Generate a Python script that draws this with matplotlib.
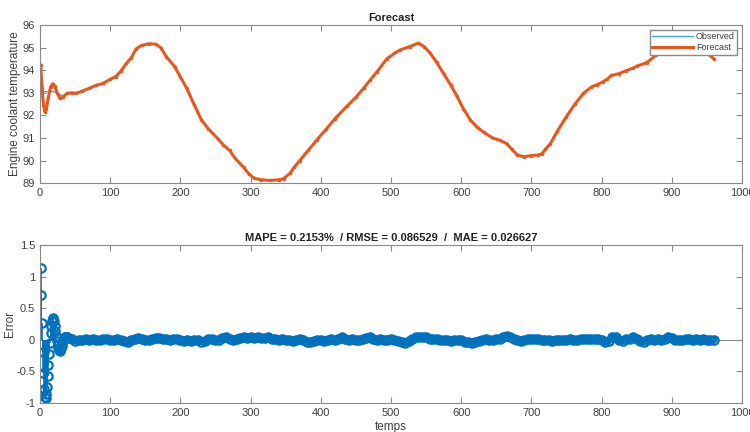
import matplotlib.pyplot as plt
from matplotlib.ticker import FormatStrFormatter

# ---- data ----
# forecast (top panel), sampled at the turning points of the curve
fc_x = [1, 3, 5, 7, 9, 12, 15, 18, 21, 25, 29, 33, 38, 45, 52, 60, 70, 80, 90,
        100, 108, 115, 123, 130, 137, 145, 155, 165, 172, 180, 192, 200, 209,
        220, 230, 240, 254, 261, 270, 278, 290, 298, 305, 315, 328, 340, 347,
        356, 362, 370, 382, 394, 408, 420, 437, 450, 461, 470, 480, 494, 505,
        513, 527, 539, 547, 556, 565, 575, 585, 594, 603, 613, 622, 632, 645,
        655, 665, 672, 680, 689, 700, 710, 715, 720, 727, 737, 750, 762, 774,
        785, 793, 802, 808, 814, 825, 835, 845, 850, 864, 878, 890, 900, 915,
        930, 945, 960]
fc_y = [94.22, 93.2, 92.45, 92.15, 92.3, 92.8, 93.25, 93.4, 93.3, 92.95, 92.75,
        92.8, 92.97, 93.0, 92.98, 93.07, 93.2, 93.33, 93.42, 93.6, 93.72, 93.95,
        94.3, 94.55, 94.95, 95.1, 95.17, 95.15, 95.0, 94.6, 94.15, 93.7, 93.2,
        92.45, 91.8, 91.4, 90.95, 90.7, 90.45, 90.1, 89.7, 89.4, 89.22, 89.15,
        89.12, 89.15, 89.2, 89.43, 89.7, 90.0, 90.45, 90.9, 91.4, 91.85, 92.4,
        92.8, 93.2, 93.55, 93.93, 94.5, 94.75, 94.9, 95.05, 95.2, 95.05, 94.75,
        94.35, 93.85, 93.35, 92.85, 92.3, 91.8, 91.5, 91.25, 91.0, 90.9, 90.75,
        90.5, 90.25, 90.17, 90.22, 90.25, 90.3, 90.5, 90.75, 91.3, 91.95, 92.5,
        92.97, 93.25, 93.35, 93.49, 93.6, 93.77, 93.85, 93.98, 94.1, 94.18,
        94.33, 94.67, 94.9, 95.1, 95.3, 95.25, 94.9, 94.5]

# observed: only the start differs visibly from the forecast
obs_start = [93.08, 93.05, 93.05, 93.05, 93.05, 93.03, 93.05, 93.06, 93.03,
             92.98, 92.9, 92.88, 92.95]

# error (bottom panel): every step at the start, then every 5 steps
err_x_start = list(range(1, 41))
err_start = [1.14, 0.71, 0.26, -0.19, -0.53, -0.77, -0.90, -0.92, -0.86, -0.74,
             -0.58, -0.40, -0.22, -0.05, 0.10, 0.22, 0.30, 0.34, 0.33, 0.29,
             0.22, 0.14, 0.06, -0.02, -0.08, -0.13, -0.16, -0.17, -0.16, -0.13,
             -0.09, -0.05, -0.01, 0.02, 0.04, 0.05, 0.05, 0.05, 0.04, 0.03]
err_x_rest = list(range(45, 961, 5))
err_rest = [0.01, -0.02, -0.01, 0.0, 0.01, 0.0, 0.02, 0.0, -0.01, 0.01,
            0.02, 0.0, -0.01, 0.01, 0.0, -0.02, -0.04, -0.01, 0.02, 0.03,
            0.01, -0.01, 0.0, 0.02, 0.03, 0.03, 0.02, 0.01, 0.0, 0.02,
            0.01, -0.01, -0.02, -0.01, -0.02, -0.01, 0.0, -0.03, -0.02, 0.01,
            0.02, -0.01, 0.0, 0.03, 0.05, 0.02, 0.0, 0.02, 0.03, 0.04,
            0.03, 0.04, 0.03, 0.04, 0.03, 0.03, 0.04, 0.02, 0.01, 0.0,
            0.01, -0.01, 0.0, -0.02, -0.01, 0.01, -0.01, -0.03, -0.03, -0.02,
            0.0, -0.01, -0.02, 0.0, 0.02, 0.0, 0.01, 0.04, 0.02, 0.0,
            0.01, 0.0, -0.01, 0.02, 0.03, 0.04, 0.01, 0.0, 0.01, -0.01,
            0.0, 0.01, 0.0, -0.02, -0.03, -0.05, -0.02, 0.01, 0.04, 0.05,
            0.05, 0.04, 0.02, 0.02, 0.01, 0.0, -0.01, 0.0, -0.02, -0.01,
            0.0, -0.01, -0.03, -0.04, -0.05, -0.03, -0.02, 0.0, 0.01, 0.0,
            -0.01, 0.01, 0.02, 0.05, 0.06, 0.04, 0.02, -0.01, -0.02, 0.0,
            0.01, 0.01, 0.02, 0.02, 0.0, -0.01, -0.01, -0.02, -0.01, 0.0,
            -0.01, 0.0, 0.01, 0.0, 0.0, 0.01, 0.01, 0.01, 0.02, 0.02,
            0.02, 0.0, -0.04, -0.02, 0.05, 0.04, 0.0, -0.02, 0.01, 0.02,
            0.04, 0.01, -0.02, -0.03, 0.0, 0.02, -0.01, 0.01, -0.01, 0.02,
            0.05, 0.03, 0.0, -0.01, 0.0, 0.01, 0.01, 0.0, 0.01, 0.0,
            0.01, 0.0, 0.0, 0.0]

title_top = "Forecast"
title_bottom = "MAPE = 0.2153%  / RMSE = 0.086529  /  MAE = 0.026627"

obs_y = obs_start + fc_y[len(obs_start):]
err_x = err_x_start + err_x_rest
err_y = err_start + err_rest

plt.rcParams['font.family'] = ['Liberation Sans', 'DejaVu Sans']
plt.rcParams['font.size'] = 8
plt.rcParams['axes.unicode_minus'] = False

BLUE = '#0072BD'
CYAN = '#45A8D8'
ORANGE = '#E8571E'
GRAY = '#8a8a8a'
TXT = '#404040'

fig = plt.figure(figsize=(7.5, 4.32), dpi=100)
ax1 = fig.add_axes([0.0533, 0.576, 0.936, 0.366])
ax2 = fig.add_axes([0.0533, 0.067, 0.936, 0.366])


def style(ax):
    for s in ax.spines.values():
        s.set_color(GRAY)
        s.set_linewidth(0.8)
    ax.tick_params(direction='in', top=True, right=True, length=4,
                   width=0.8, color=GRAY, labelcolor=TXT, labelsize=8)
    ax.set_xlim(0, 1000)
    ax.set_xticks(range(0, 1001, 100))


# top: observed vs forecast
ax1.plot(fc_x, obs_y, color=CYAN, lw=1.0, label='Observed')
ax1.plot(fc_x, fc_y, color=ORANGE, lw=2.2, marker='.', markersize=3,
         label='Forecast')
style(ax1)
ax1.set_ylim(89, 96)
ax1.set_yticks(range(89, 97))
ax1.set_ylabel('Engine coolant temperature', color=TXT, fontsize=8.5,
               labelpad=1)
ax1.set_title(title_top, fontsize=8, fontweight='bold', color='#222222',
              pad=3)
leg = ax1.legend(loc='upper right', fontsize=6.5, fancybox=False,
                 framealpha=1, edgecolor=GRAY, borderpad=0.3,
                 handlelength=4.5, handletextpad=0.3, labelspacing=0.2,
                 borderaxespad=0.5, numpoints=1)
for t in leg.get_texts():
    t.set_color(TXT)

# bottom: error stem plot
ax2.axhline(0, color=GRAY, lw=0.8, zorder=1)
# the circles in the steady part overlap into a solid band
ax2.plot(err_x_rest, err_rest, color=BLUE, lw=5, solid_capstyle='round',
         zorder=2)
ml, sl, bl = ax2.stem(err_x, err_y, basefmt=' ')
sl.set_color(BLUE)
sl.set_linewidth(1.2)
ml.set_markerfacecolor('none')
ml.set_markeredgecolor(BLUE)
ml.set_markersize(6)
ml.set_markeredgewidth(1.6)
style(ax2)
ax2.set_ylim(-1, 1.5)
ax2.set_yticks([-1, -0.5, 0, 0.5, 1, 1.5])
ax2.yaxis.set_major_formatter(FormatStrFormatter('%g'))
ax2.set_ylabel('Error', color=TXT, fontsize=8.5, labelpad=0)
ax2.set_xlabel('temps', color=TXT, fontsize=8.5, labelpad=2)
ax2.set_title(title_bottom, fontsize=8, fontweight='bold', color='#222222',
              pad=3)

fig.savefig('out.png', dpi=100)
